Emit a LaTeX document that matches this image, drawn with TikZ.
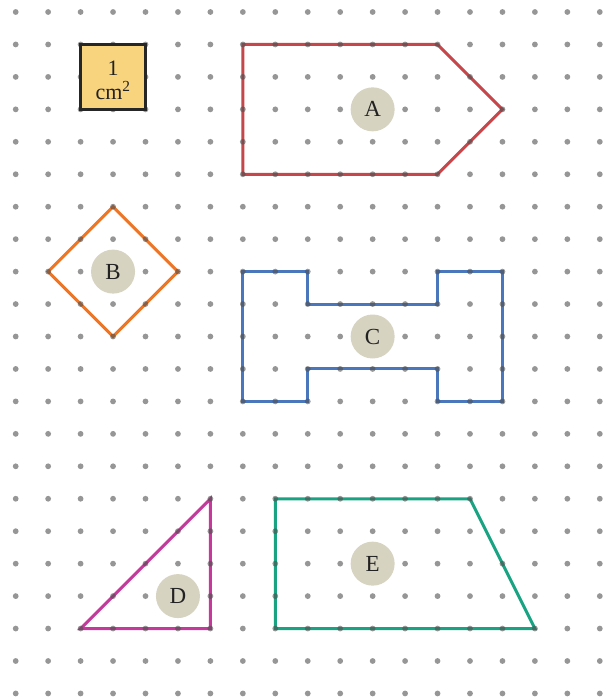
\documentclass[tikz,border=0pt]{standalone}
\usepackage{fontspec}
\setmainfont{Liberation Serif}
\begin{document}
\definecolor{shA}{HTML}{C4484B}
\definecolor{shB}{HTML}{EE7524}
\definecolor{shC}{HTML}{4A77BC}
\definecolor{shD}{HTML}{C4399A}
\definecolor{shE}{HTML}{1AA383}
\definecolor{lblfill}{HTML}{D6D3C1}
\definecolor{sqfill}{HTML}{F8D47E}
\definecolor{dotcol}{HTML}{505050}
\definecolor{txt}{HTML}{222222}
\begin{tikzpicture}[x=32.45pt,y=-32.45pt,
  shapeline/.style={line width=3pt,line join=miter},
  lbl/.style={circle,fill=lblfill,minimum size=44pt,inner sep=0pt,text=txt,font=\fontsize{23}{25}\selectfont},
  griddot/.style={fill=dotcol,opacity=0.6}]
\useasboundingbox (-0.4838,-0.3698) rectangle (18.376,21.202);
% shapes
\draw[shapeline,shA] (7,1) -- (13,1) -- (15,3) -- (13,5) -- (7,5) -- cycle;
\draw[shapeline,shB] (3,6) -- (5,8) -- (3,10) -- (1,8) -- cycle;
\draw[shapeline,shC] (7,8) -- (9,8) -- (9,9) -- (13,9) -- (13,8) -- (15,8) -- (15,12) -- (13,12) -- (13,11) -- (9,11) -- (9,12) -- (7,12) -- cycle;
\draw[shapeline,shD] (2,19) -- (6,19) -- (6,15) -- cycle;
\draw[shapeline,shE] (8,15) -- (14,15) -- (16,19) -- (8,19) -- cycle;
% dots
\foreach \i in {0,...,18}{
  \foreach \j in {0,...,21}{
    \fill[griddot] (\i,\j) circle (2.9pt);
  }
}
% unit square
\draw[fill=sqfill,draw=black!85,line width=2.5pt] (2,1) rectangle (4,3);
\node[text=txt,align=center,inner sep=0pt,yshift=-3pt,font=\fontsize{22}{24}\selectfont] (unit) at (3,2) {1\\cm\textsuperscript{2}};
% labels
\node[lbl] (A) at (11,3) {A};
\node[lbl] (B) at (3,8) {B};
\node[lbl] (C) at (11,10) {C};
\node[lbl] (D) at (5,18) {D};
\node[lbl] (E) at (11,17) {E};
\end{tikzpicture}
\end{document}
